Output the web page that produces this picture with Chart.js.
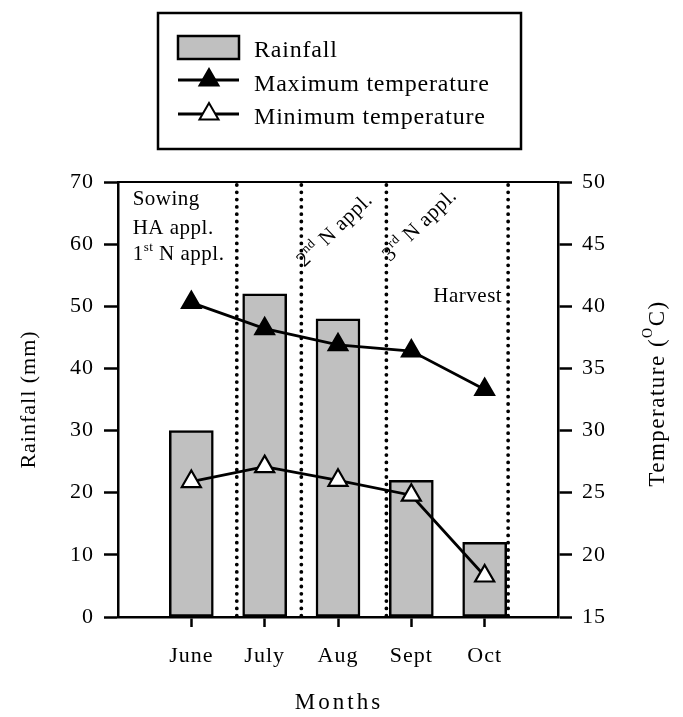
<!DOCTYPE html>
<html>
<head>
<meta charset="utf-8">
<script src="https://cdn.jsdelivr.net/npm/chart.js@4.4.0/dist/chart.umd.min.js"></script>
<style>
  html, body { margin: 0; padding: 0; background: #fff; }
</style>
</head>
<body>
<canvas id="climate-chart" width="683" height="717"></canvas>
<script>
// chart data
const months = ["June", "July", "Aug", "Sept", "Oct"];
const rainfall = [30, 52, 48, 22, 12];
const maxTemp = [40.3, 38.2, 36.9, 36.4, 33.3];
const minTemp = [25.9, 27.1, 26.0, 24.8, 18.3];
const rainTicks = [0, 10, 20, 30, 40, 50, 60, 70];
const tempTicks = [15, 20, 25, 30, 35, 40, 45, 50];

// dotted event lines (x positions on the month scale, June = 1)
const eventLines = [1.62, 2.5, 3.66, 5.32];

// annotation texts: parts are [text, isSuperscript]
const notes = [
  { parts: [["Sowing", false]], x: 0.2, y: 66.3, angle: 0 },
  { parts: [["HA appl.", false]], x: 0.2, y: 61.6, angle: 0 },
  { parts: [["1", false], ["st", true], [" N appl.", false]], x: 0.2, y: 57.4, angle: 0 },
  { parts: [["2", false], ["nd", true], [" N appl.", false]], x: 2.54, y: 56.2, angle: -44 },
  { parts: [["3", false], ["rd", true], [" N appl.", false]], x: 3.71, y: 57.1, angle: -44 },
  { parts: [["Harvest", false]], x: 4.3, y: 50.7, angle: 0 },
];

const FONT = "'Liberation Serif', 'Times New Roman', serif";
const SPACING = "1px";

function toPoints(values) {
  return values.map((v, i) => ({ x: i + 1, y: v }));
}

// draw text made of normal and superscript pieces
function drawParts(ctx, parts, size) {
  let x = 0;
  parts.forEach(([txt, sup]) => {
    ctx.font = (sup ? Math.round(size * 0.6) : size) + "px " + FONT;
    ctx.fillText(txt, x, sup ? -size * 0.42 : 0);
    x += ctx.measureText(txt).width;
  });
  return x;
}

function partsWidth(ctx, parts, size) {
  let w = 0;
  parts.forEach(([txt, sup]) => {
    ctx.font = (sup ? Math.round(size * 0.6) : size) + "px " + FONT;
    w += ctx.measureText(txt).width;
  });
  return w;
}

function triangle(ctx, x, y, r, fill) {
  ctx.beginPath();
  ctx.moveTo(x, y - r);
  ctx.lineTo(x + Math.sin(Math.PI / 3 * 2) * r, y + r / 2);
  ctx.lineTo(x - Math.sin(Math.PI / 3 * 2) * r, y + r / 2);
  ctx.closePath();
  ctx.fillStyle = fill;
  ctx.fill();
  ctx.lineWidth = 2;
  ctx.strokeStyle = "#000";
  ctx.stroke();
}

const spacingPlugin = {
  id: "spacing",
  beforeLayout(chart) { chart.ctx.letterSpacing = SPACING; },
  beforeDraw(chart) { chart.ctx.letterSpacing = SPACING; },
};

const extrasPlugin = {
  id: "extras",
  afterDatasetsDraw(chart) {
    const ctx = chart.ctx;
    const area = chart.chartArea;
    const xs = chart.scales.x;
    const ys = chart.scales.y;

    // dotted event lines
    ctx.save();
    ctx.strokeStyle = "#000";
    ctx.lineWidth = 3.8;
    ctx.lineCap = "round";
    ctx.setLineDash([0, 7.3]);
    eventLines.forEach((v) => {
      const px = xs.getPixelForValue(v);
      ctx.beginPath();
      ctx.moveTo(px, area.top + 3);
      ctx.lineTo(px, area.bottom + 6);
      ctx.stroke();
    });
    ctx.restore();

    // top frame line
    ctx.save();
    ctx.strokeStyle = "#000";
    ctx.lineWidth = 2;
    ctx.beginPath();
    ctx.moveTo(area.left, area.top);
    ctx.lineTo(area.right, area.top);
    ctx.stroke();
    ctx.restore();

    // annotations
    ctx.save();
    ctx.letterSpacing = "0.5px";
    ctx.fillStyle = "#000";
    ctx.textBaseline = "alphabetic";
    notes.forEach((n) => {
      ctx.save();
      ctx.translate(xs.getPixelForValue(n.x), ys.getPixelForValue(n.y));
      ctx.rotate(n.angle * Math.PI / 180);
      drawParts(ctx, n.parts, 21);
      ctx.restore();
    });
    ctx.restore();
  },
  afterDraw(chart) {
    const ctx = chart.ctx;
    const area = chart.chartArea;

    // x axis title
    ctx.save();
    ctx.letterSpacing = "3px";
    ctx.fillStyle = "#000";
    ctx.font = "23px " + FONT;
    ctx.textAlign = "center";
    ctx.textBaseline = "alphabetic";
    ctx.fillText("Months", (area.left + area.right) / 2 + 1, 709);
    ctx.restore();

    // right axis title, reading bottom to top
    ctx.save();
    ctx.letterSpacing = "1.5px";
    const tParts = [["Temperature (", false], ["O", true], ["C)", false]];
    const tw = partsWidth(ctx, tParts, 23);
    ctx.translate(658, (area.top + area.bottom) / 2 - 6);
    ctx.rotate(-Math.PI / 2);
    ctx.fillStyle = "#000";
    ctx.textBaseline = "middle";
    ctx.translate(-tw / 2, 0);
    drawParts(ctx, tParts, 23);
    ctx.restore();

    // legend box
    ctx.save();
    ctx.letterSpacing = "0.8px";
    ctx.strokeStyle = "#000";
    ctx.lineWidth = 2.5;
    ctx.strokeRect(158, 13, 363, 136);

    ctx.fillStyle = "#c0c0c0";
    ctx.fillRect(178, 36, 61, 23);
    ctx.lineWidth = 2.5;
    ctx.strokeRect(178, 36, 61, 23);

    [[80, "#000"], [114, "#fff"]].forEach(([y, fill]) => {
      ctx.beginPath();
      ctx.moveTo(178, y);
      ctx.lineTo(239, y);
      ctx.lineWidth = 2.8;
      ctx.strokeStyle = "#000";
      ctx.stroke();
      triangle(ctx, 209, y, 11, fill);
    });

    ctx.fillStyle = "#000";
    ctx.font = "24px " + FONT;
    ctx.textBaseline = "alphabetic";
    const labels = chart.data.datasets.map((d) => d.label);
    ctx.fillText(labels[0], 254, 57);
    ctx.fillText(labels[1], 254, 91);
    ctx.fillText(labels[2], 254, 124);
    ctx.restore();
  },
};

const tickFont = { family: FONT, size: 22 };

new Chart(document.getElementById("climate-chart"), {
  type: "bar",
  data: {
    datasets: [
      {
        type: "bar",
        label: "Rainfall",
        data: toPoints(rainfall),
        yAxisID: "y",
        backgroundColor: "#c0c0c0",
        borderColor: "#000",
        borderWidth: 2.5,
        borderSkipped: false,
        barThickness: 44,
        order: 3,
      },
      {
        type: "line",
        label: "Maximum temperature",
        data: toPoints(maxTemp),
        yAxisID: "y2",
        borderColor: "#000",
        borderWidth: 2.8,
        pointStyle: "triangle",
        pointRadius: 11,
        pointBackgroundColor: "#000",
        pointBorderColor: "#000",
        pointBorderWidth: 2,
        tension: 0,
        order: 1,
      },
      {
        type: "line",
        label: "Minimum temperature",
        data: toPoints(minTemp),
        yAxisID: "y2",
        borderColor: "#000",
        borderWidth: 2.8,
        pointStyle: "triangle",
        pointRadius: 11,
        pointBackgroundColor: "#fff",
        pointBorderColor: "#000",
        pointBorderWidth: 2.2,
        tension: 0,
        order: 2,
      },
    ],
  },
  options: {
    responsive: false,
    animation: false,
    layout: { padding: { top: 182, left: 0, right: 0, bottom: 0 } },
    plugins: {
      legend: { display: false },
      tooltip: { enabled: false },
    },
    scales: {
      x: {
        type: "linear",
        min: 0,
        max: 6,
        offset: false,
        afterBuildTicks: (scale) => {
          scale.ticks = months.map((m, i) => ({ value: i + 1 }));
        },
        afterFit: (scale) => { scale.height = 100; },
        ticks: {
          color: "#000",
          font: tickFont,
          padding: 16,
          maxRotation: 0,
          callback: (v) => months[v - 1],
        },
        grid: {
          offset: false,
          drawOnChartArea: false,
          color: "#000",
          tickLength: 10,
          tickWidth: 2.5,
        },
        border: { color: "#000", width: 2.5 },
      },
      y: {
        position: "left",
        min: 0,
        max: 70,
        afterBuildTicks: (scale) => {
          scale.ticks = rainTicks.map((v) => ({ value: v }));
        },
        afterFit: (scale) => { scale.width = 118; },
        ticks: { color: "#000", font: tickFont, padding: 10 },
        grid: {
          drawOnChartArea: false,
          color: "#000",
          tickLength: 14,
          tickWidth: 2.5,
        },
        border: { color: "#000", width: 2.5 },
        title: {
          display: true,
          text: "Rainfall (mm)",
          color: "#000",
          font: { family: FONT, size: 22 },
          padding: { top: 16, bottom: 0 },
        },
      },
      y2: {
        position: "right",
        min: 15,
        max: 50,
        afterBuildTicks: (scale) => {
          scale.ticks = tempTicks.map((v) => ({ value: v }));
        },
        afterFit: (scale) => { scale.width = 125; },
        ticks: { color: "#000", font: tickFont, padding: 10 },
        grid: {
          drawOnChartArea: false,
          color: "#000",
          tickLength: 14,
          tickWidth: 2.5,
        },
        border: { color: "#000", width: 2.5 },
      },
    },
  },
  plugins: [spacingPlugin, extrasPlugin],
});
</script>
</body>
</html>
